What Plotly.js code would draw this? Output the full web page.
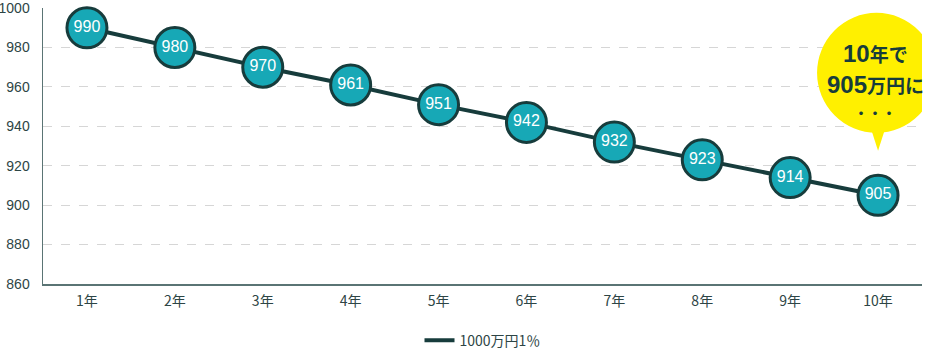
<!DOCTYPE html>
<html><head><meta charset="utf-8">
<script src="https://cdn.plot.ly/plotly-3.0.1.min.js"></script>
<style>html,body{margin:0;padding:0;background:#fff}#chart{width:940px;height:355px}</style>
</head><body><div id="chart"></div>
<script>
const categories = ["1年","2年","3年","4年","5年","6年","7年","8年","9年","10年"];
const values = [990,980,970,961,951,942,932,923,914,905];
const seriesName = "1000万円1％";
const yTicks = [860,880,900,920,940,960,980,1000];
const calloutLine1 = ["10", "年で"];
const calloutLine2 = ["905", "万円に"];
const calloutDots = "・・・";

const FONT = "Liberation Sans, Arial, Noto Sans CJK JP, sans-serif";
const CJK = "Noto Sans CJK JP, sans-serif";
const DARK = "#173c3c";

const trace = {
  x: categories, y: values, name: seriesName, type: "scatter",
  mode: "lines+markers+text", showlegend: false,
  text: values.map(String), textposition: "middle center",
  textfont: {family: FONT, size: 16, color: "#ffffff"},
  line: {color: DARK, width: 4},
  marker: {size: 40, color: "#17a8b6", line: {color: DARK, width: 3}},
  cliponaxis: false
};
const legendTrace = {
  x: [null], y: [null], name: seriesName, type: "scatter", mode: "lines",
  line: {color: DARK, width: 4}, showlegend: true
};

const lastIdx = categories.length - 1;
const BY = 0.765;
const layout = {
  width: 940, height: 355,
  margin: {l: 43, r: 18, t: 8, b: 71, autoexpand: false},
  paper_bgcolor: "#fff", plot_bgcolor: "#fff",
  font: {family: FONT, color: DARK},
  showlegend: true,
  legend: {orientation: "h", x: 0.5, xanchor: "center", y: -0.205, yanchor: "middle",
           font: {family: CJK, size: 14, color: "#2d4545"}},
  xaxis: {type: "category", range: [-0.5, 9.5], showgrid: false, zeroline: false,
          showline: true, linecolor: "#5a7474", linewidth: 1.5, ticks: "",
          ticklabelstandoff: 4,
          tickfont: {family: CJK, size: 14, color: "#2d4545"}},
  yaxis: {range: [860, 1000.05], tickvals: yTicks, ticktext: yTicks.map(String),
          showgrid: true, gridcolor: "#d6d6d6", griddash: "dash", gridwidth: 1,
          zeroline: false, showline: true, linecolor: "#5a7474", linewidth: 1.5,
          ticks: "", ticklabelstandoff: 9,
          tickfont: {family: FONT, size: 14, color: "#2d4545"}},
  shapes: [
    {type: "circle", xref: "x", yref: "paper", xsizemode: "pixel", ysizemode: "pixel",
     xanchor: lastIdx, yanchor: BY, x0: -61, x1: 58, y0: -60, y1: 60,
     fillcolor: "#fff000", line: {width: 0}, layer: "above"},
    {type: "path", xref: "x", yref: "paper", xsizemode: "pixel", ysizemode: "pixel",
     xanchor: lastIdx, yanchor: BY,
     path: "M -9 -50 L 9 -50 L 0 -78 Z",
     fillcolor: "#fff000", line: {width: 0}, layer: "above"}
  ],
  annotations: [
    {xref: "x", yref: "paper", x: lastIdx, y: BY, xshift: -3, yshift: 19,
     text: "<b><span style='font-size:24px'>" + calloutLine1[0] + "</span><span style='font-family:Noto Sans CJK JP;font-size:19px'>" + calloutLine1[1] + "</span></b>",
     showarrow: false, font: {family: FONT, size: 22, color: DARK},
     xanchor: "center", yanchor: "middle"},
    {xref: "x", yref: "paper", x: lastIdx, y: BY, xshift: -3, yshift: -12,
     text: "<b><span style='font-size:24px'>" + calloutLine2[0] + "</span><span style='font-family:Noto Sans CJK JP;font-size:19px'>" + calloutLine2[1] + "</span></b>",
     showarrow: false, font: {family: FONT, size: 22, color: DARK},
     xanchor: "center", yanchor: "middle"},
    {xref: "x", yref: "paper", x: lastIdx, y: BY, xshift: -3, yshift: -39,
     text: "<b>" + calloutDots + "</b>", showarrow: false,
     font: {family: CJK, size: 14, color: DARK},
     xanchor: "center", yanchor: "middle"}
  ]
};

Plotly.newPlot("chart", [trace, legendTrace], layout, {displayModeBar: false, staticPlot: true});
</script></body></html>
